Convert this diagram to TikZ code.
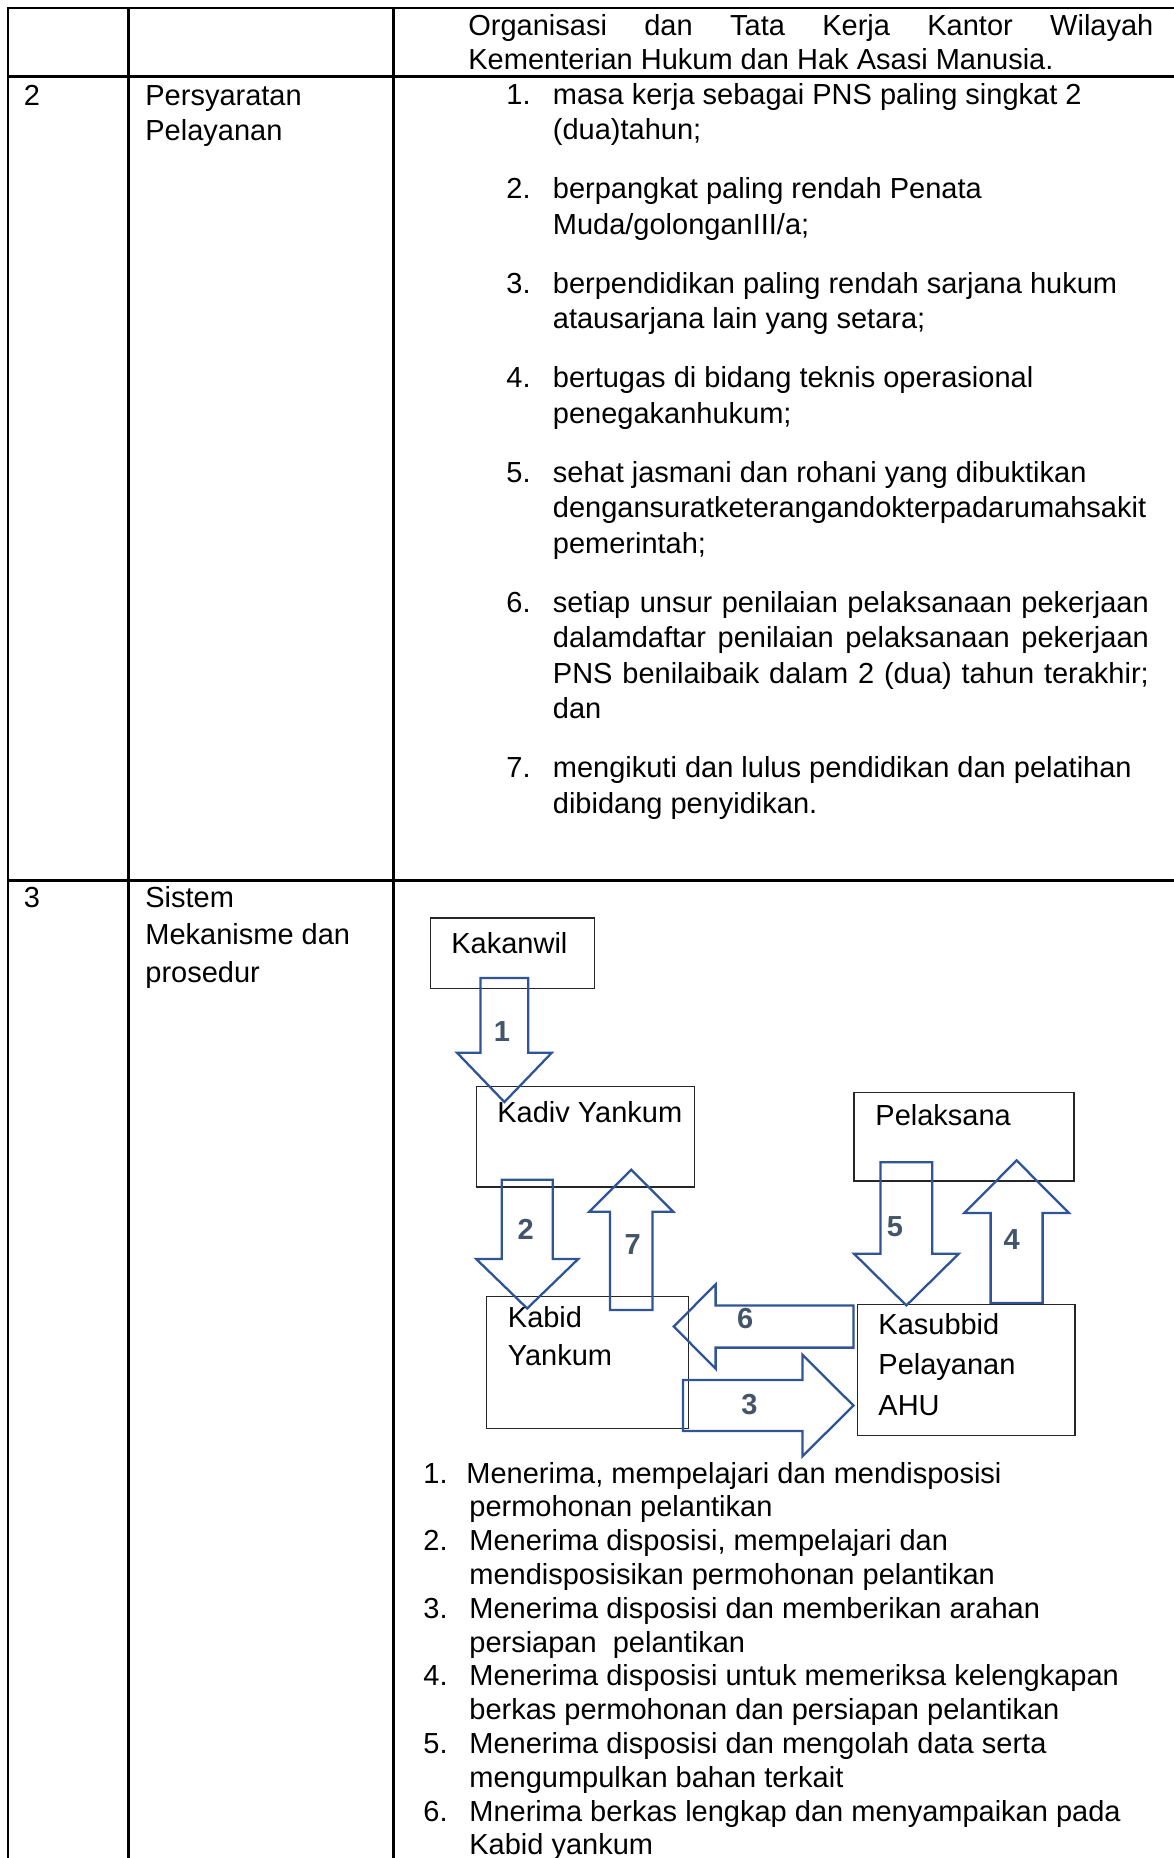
\documentclass[tikz,border=0pt]{standalone}
\usepackage{fontspec}
\setmainfont{Liberation Sans}
\usepackage{xcolor}
\usetikzlibrary{calc}
\definecolor{biruPanah}{HTML}{2F5597}
\definecolor{abuAngka}{HTML}{44546A}
\definecolor{abuKotak}{HTML}{262626}
% panah blok: ekor, sudut, panjang, setengah batang, setengah kepala, panjang kepala
\newcommand{\panah}[6]{
\begin{scope}[shift={(#1)}, rotate=#2]
\draw[panahblok] (0,-#4) -- (#3-#6,-#4) -- (#3-#6,-#5) -- (#3,0) -- (#3-#6,#5) -- (#3-#6,#4) -- (0,#4) -- cycle;
\end{scope}
}

\begin{document}
\begin{tikzpicture}[x = 0.5pt, y = -0.5pt,
    garis/.style = {line width = 1.1pt, black, line cap = rect},
    kotak/.style = {draw = abuKotak, line width = 0.7pt, rectangle, inner sep = 0pt, anchor = north west},
    teks/.style = {anchor = base west, inner sep = 0pt, font = \fontsize{14.5}{17}\selectfont},
    angka/.style = {anchor = base, inner sep = 0pt, text = abuAngka, font = \fontsize{14.5}{17}\selectfont\bfseries},
    panahblok/.style = {draw = biruPanah, line width = 1.15pt, line join = miter}]
    % Parameter
    \pgfmathsetmacro{\lebar}{1173}
    \pgfmathsetmacro{\tinggi}{1858}
    \pgfmathsetmacro{\kolA}{8}
    \pgfmathsetmacro{\kolB}{128.5}
    \pgfmathsetmacro{\kolC}{393.5}
    \useasboundingbox (0,0) rectangle (\lebar,\tinggi);
    % Tabel
    \draw[garis] (\kolA,8) -- (\lebar,8);
    \draw[garis] (\kolA,76.5) -- (\lebar,76.5);
    \draw[garis] (\kolA,880.5) -- (\lebar,880.5);
    \foreach \x in {\kolA,\kolB,\kolC} \draw[garis] (\x,8) -- (\x,\tinggi);
    % Baris 1
    \node[teks] (org1) at (468,35.5) {\makebox[342.5pt][s]{Organisasi dan Tata Kerja Kantor Wilayah}};
    \node[teks] (org2) at (468,69.5) {Kementerian Hukum dan Hak Asasi Manusia.};
    % Baris 2
    \node[teks] (no2) at (23.5,105) {2};
    \node[teks] (judul2a) at (145,105) {Persyaratan};
    \node[teks] (judul2b) at (145,140) {Pelayanan};
    \foreach \n/\y in {1/104, 2/198.5, 3/293, 4/387.5, 5/482, 6/612, 7/777.5}
        \node[teks] (nomor\n) at (506,\y) {\n.};
    \foreach \y/\baris [count = \i] in {104/{masa kerja sebagai PNS paling singkat 2}, 139.5/{(dua)tahun;},
        198.5/{berpangkat paling rendah Penata}, 234/{Muda/golonganIII/a;},
        293/{berpendidikan paling rendah sarjana hukum}, 328.5/{atausarjana lain yang setara;},
        387.5/{bertugas di bidang teknis operasional}, 423/{penegakanhukum;},
        482/{sehat jasmani dan rohani yang dibuktikan}, 517.5/{dengansuratketerangandokterpadarumahsakit}, 553/{pemerintah;},
        612/{\makebox[298pt][s]{setiap unsur penilaian pelaksanaan pekerjaan}},
        647.5/{\makebox[298pt][s]{dalamdaftar penilaian pelaksanaan pekerjaan}},
        683/{\makebox[298pt][s]{PNS benilaibaik dalam 2 (dua) tahun terakhir;}}, 718.5/{dan},
        777.5/{mengikuti dan lulus pendidikan dan pelatihan}, 813/{dibidang penyidikan.}}
        \node[teks] (syarat\i) at (552.5,\y) {\baris};
    % Baris 3
    \node[teks] (no3) at (23.5,907) {3};
    \node[teks] (judul3a) at (145,907) {Sistem};
    \node[teks] (judul3b) at (145,944.5) {Mekanisme dan};
    \node[teks] (judul3c) at (145,982) {prosedur};
    % Kotak
    \node[kotak, minimum width = 82.2pt, minimum height = 35.15pt] (kakanwil) at (429.6,917.4) {};
    \node[kotak, minimum width = 109.25pt, minimum height = 50.3pt] (kadiv) at (475.5,1085.7) {};
    \node[kotak, minimum width = 109.95pt, minimum height = 44.2pt] (pelaksana) at (853.4,1092) {};
    \node[kotak, minimum width = 101pt, minimum height = 65.75pt] (kabid) at (486,1296) {};
    \node[kotak, minimum width = 108.8pt, minimum height = 65.7pt] (kasubbid) at (856.6,1303.6) {};
    % Panah
    \coordinate (ekor1) at (504.4,978);
    \coordinate (ekor2) at (527.2,1179.7);
    \coordinate (ekor3) at (683,1405.5);
    \coordinate (ekor4) at (1016.6,1302.9);
    \coordinate (ekor5) at (906.4,1162.3);
    \coordinate (ekor6) at (853.4,1326.5);
    \coordinate (ekor7) at (631.2,1310);
    \panah{ekor1}{-90}{124}{23.9}{47.3}{49.2}
    \panah{ekor2}{-90}{128.7}{25.5}{51}{49.4}
    \panah{ekor3}{0}{170.4}{25.5}{50.9}{51}
    \panah{ekor4}{90}{142.5}{26}{52.3}{52.6}
    \panah{ekor5}{-90}{143.1}{25.9}{52.4}{51.7}
    \panah{ekor6}{180}{179.6}{21.1}{42.2}{41.8}
    \panah{ekor7}{90}{140.3}{21.2}{42}{42.1}
    % Teks kotak
    \node[teks] (tKakanwil) at (451,953) {Kakanwil};
    \node[teks] (tKadiv) at (497,1122) {Kadiv Yankum};
    \node[teks] (tPelaksana) at (875,1125) {Pelaksana};
    \node[teks] (tKabidA) at (507.5,1327) {Kabid};
    \node[teks] (tKabidB) at (507.5,1365.5) {Yankum};
    \node[teks] (tKasubbidA) at (878,1334) {Kasubbid};
    \node[teks] (tKasubbidB) at (878,1374.5) {Pelayanan};
    \node[teks] (tKasubbidC) at (878,1415) {AHU};
    % Nomor panah
    \node[angka] (n1) at (502,1041.5) {1};
    \node[angka] (n2) at (525.8,1239.5) {2};
    \node[angka] (n3) at (749.4,1414) {3};
    \node[angka] (n4) at (1011.8,1249) {4};
    \node[angka] (n5) at (895,1236) {5};
    \node[angka] (n6) at (745.2,1328.5) {6};
    \node[angka] (n7) at (632.8,1254.5) {7};
    % Langkah
    \foreach \n/\y in {1/1483, 2/1550.6, 3/1618.2, 4/1685.8, 5/1753.4, 6/1821}
        \node[teks] (langkah\n) at (423,\y) {\n.};
    \node[teks] (uraian1) at (466,1483) {Menerima, mempelajari dan mendisposisi};
    \foreach \y/\baris [count = \i from 2] in {1516.8/{permohonan pelantikan},
        1550.6/{Menerima disposisi, mempelajari dan}, 1584.4/{mendisposisikan permohonan pelantikan},
        1618.2/{Menerima disposisi dan memberikan arahan}, 1652/{persiapan\ \ pelantikan},
        1685.8/{Menerima disposisi untuk memeriksa kelengkapan}, 1719.6/{berkas permohonan dan persiapan pelantikan},
        1753.4/{Menerima disposisi dan mengolah data serta}, 1787.2/{mengumpulkan bahan terkait},
        1821/{Mnerima berkas lengkap dan menyampaikan pada}, 1854.8/{Kabid yankum}}
        \node[teks] (uraian\i) at (469,\y) {\baris};
\end{tikzpicture}
\end{document}
